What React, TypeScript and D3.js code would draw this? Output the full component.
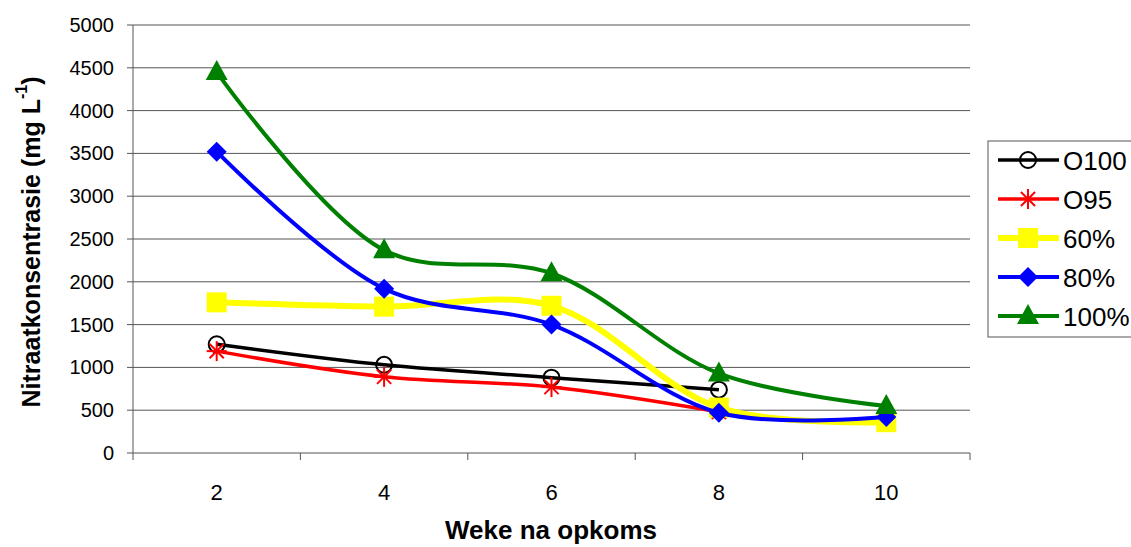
import React from "react";
import * as d3 from "d3";

const weeks = ["2", "4", "6", "8", "10"];
const yTicks = [0, 500, 1000, 1500, 2000, 2500, 3000, 3500, 4000, 4500, 5000];
const seriesNames = ["O100", "O95", "60%", "80%", "100%"];
const o100 = [1270, 1030, 880, 740, null];
const o95 = [1190, 890, 770, 480, null];
const p60 = [1760, 1710, 1720, 530, 360];
const p80 = [3520, 1920, 1500, 470, 420];
const p100 = [4450, 2370, 2100, 930, 550];

const seriesValues = [o100, o95, p60, p80, p100];
const colors = ["#000000", "#ff0000", "#ffff00", "#0000ff", "#008000"];
const widths = [3.5, 3.5, 6, 4, 4];
const markers = ["circle", "star", "square", "diamond", "triangle"];

const W = 1131, H = 547;
const left = 133, right = 970, top = 25, bottom = 453;

function Marker({ type, x, y, color }: { type: string; x: number; y: number; color: string }) {
  if (type === "circle")
    return <circle cx={x} cy={y} r={8} fill="none" stroke={color} strokeWidth={2} />;
  if (type === "star") {
    const r = 10;
    const lines = [0, 45, 90, 135].map((a) => {
      const rad = (a * Math.PI) / 180;
      return (
        <line key={a} x1={x - r * Math.cos(rad)} y1={y - r * Math.sin(rad)} x2={x + r * Math.cos(rad)} y2={y + r * Math.sin(rad)} stroke={color} strokeWidth={2} />
      );
    });
    return <g>{lines}</g>;
  }
  if (type === "square") return <rect x={x - 10} y={y - 10} width={20} height={20} fill={color} />;
  if (type === "diamond")
    return <path d={`M${x},${y - 10}L${x + 10},${y}L${x},${y + 10}L${x - 10},${y}Z`} fill={color} />;
  return <path d={`M${x},${y - 12}L${x + 11},${y + 8}L${x - 11},${y + 8}Z`} fill={color} />;
}

export default function App() {
  const x = d3.scaleBand().domain(weeks).range([left, right]);
  const y = d3.scaleLinear().domain([0, 5000]).range([bottom, top]);
  const cx = (w: string) => (x(w) as number) + x.bandwidth() / 2;
  const line = d3
    .line<[string, number | null]>()
    .defined((d) => d[1] != null)
    .x((d) => cx(d[0]))
    .y((d) => y(d[1] as number))
    .curve(d3.curveCatmullRom.alpha(0.5));

  const boundaries = weeks.map((w) => x(w) as number).concat([right]);
  const legendY = [160, 199, 238, 277, 316];

  return (
    <svg width={W} height={H} style={{ position: "absolute", left: 0, top: 0, fontFamily: "'Liberation Sans', Arial, sans-serif" }}>
      <rect width={W} height={H} fill="#fff" />
      {yTicks.map((t) => (
        <g key={t}>
          {t > 0 && <line x1={left} x2={right} y1={y(t)} y2={y(t)} stroke="#555" strokeWidth={1} />}
          <line x1={left - 6} x2={left} y1={y(t)} y2={y(t)} stroke="#555" />
          <text x={left - 19} y={y(t)} textAnchor="end" dominantBaseline="central" fontSize={20}>
            {t}
          </text>
        </g>
      ))}
      <line x1={left} x2={left} y1={top} y2={bottom} stroke="#555" />
      <line x1={left} x2={right} y1={bottom} y2={bottom} stroke="#555" />
      {boundaries.map((b, i) => (
        <line key={i} x1={b} x2={b} y1={bottom} y2={bottom + 7} stroke="#555" />
      ))}
      {weeks.map((w) => (
        <text key={w} x={cx(w)} y={492} textAnchor="middle" dominantBaseline="central" fontSize={22}>
          {w}
        </text>
      ))}
      <text x={551} y={530} textAnchor="middle" dominantBaseline="central" fontSize={26} fontWeight="bold">
        Weke na opkoms
      </text>
      <text transform={`translate(31,${242}) rotate(-90)`} textAnchor="middle" dominantBaseline="central" fontSize={25} fontWeight="bold">
        Nitraatkonsentrasie (mg L
        <tspan dy={-10} fontSize={16}>-1</tspan>
        <tspan dy={10}>)</tspan>
      </text>
      {seriesValues.map((vals, i) => {
        const pts = weeks.map((w, j) => [w, vals[j]] as [string, number | null]);
        return (
          <g key={i}>
            <path d={line(pts) || ""} fill="none" stroke={colors[i]} strokeWidth={widths[i]} />
            {pts
              .filter((p) => p[1] != null)
              .map((p) => (
                <Marker key={p[0]} type={markers[i]} x={cx(p[0])} y={y(p[1] as number)} color={colors[i]} />
              ))}
          </g>
        );
      })}
      <rect x={988} y={141} width={160} height={196} fill="#fff" stroke="#555" />
      {seriesNames.map((n, i) => (
        <g key={n}>
          <line x1={998} x2={1059} y1={legendY[i]} y2={legendY[i]} stroke={colors[i]} strokeWidth={widths[i]} />
          <Marker type={markers[i]} x={1028} y={legendY[i]} color={colors[i]} />
          <text x={1063} y={legendY[i] + 1} dominantBaseline="central" fontSize={26}>
            {n}
          </text>
        </g>
      ))}
    </svg>
  );
}
